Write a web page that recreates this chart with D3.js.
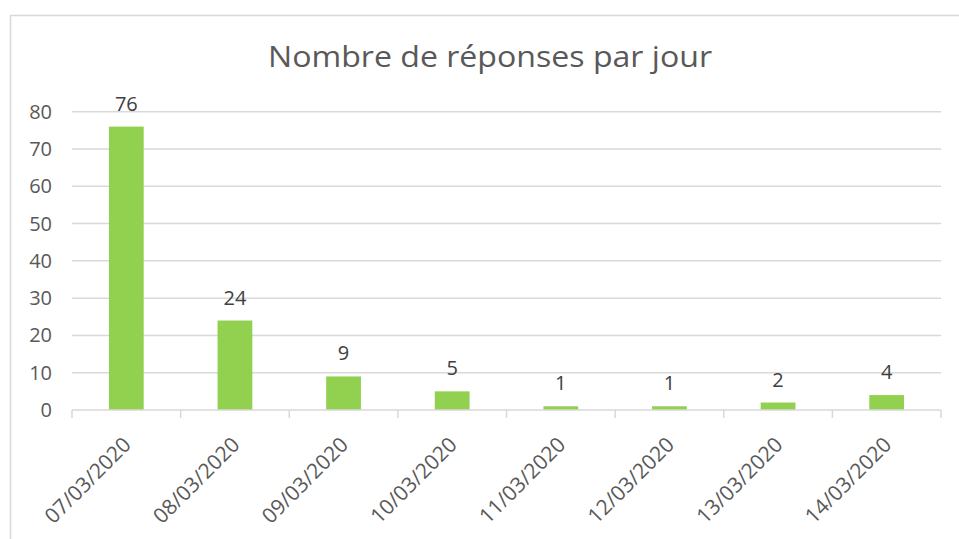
<!DOCTYPE html>
<html><head><meta charset="utf-8">
<script src="https://cdn.jsdelivr.net/npm/d3@7"></script>
<style>body{margin:0;background:#fff}svg{display:block}text{font-family:"Open Sans",sans-serif}</style>
</head><body>
<svg id="c" width="959" height="539"></svg>
<script>
const title = "Nombre de réponses par jour";
const categories = ["07/03/2020","08/03/2020","09/03/2020","10/03/2020","11/03/2020","12/03/2020","13/03/2020","14/03/2020"];
const values = [76,24,9,5,1,1,2,4];
const yTicks = [0,10,20,30,40,50,60,70,80];

const svg = d3.select("#c");
const m = {l:72, r:941, t:111.7, b:410};
// frame
svg.append("path").attr("d","M10.5,539 V15.5 H959").attr("fill","none").attr("stroke","#d9d9d9").attr("stroke-width",1.5);

const x = d3.scaleBand().domain(categories).range([m.l,m.r]).paddingInner(0.68).paddingOuter(0.34);
const xb = d3.scaleBand().domain(categories).range([m.l,m.r]);
const y = d3.scaleLinear().domain([0,80]).range([m.b,m.t]);

// gridlines
svg.append("g").selectAll("line").data(yTicks.filter(d=>d>0)).join("line")
  .attr("x1",m.l).attr("x2",m.r).attr("y1",d=>y(d)).attr("y2",d=>y(d))
  .attr("stroke","#d9d9d9").attr("stroke-width",1.5);

// y labels
svg.append("g").selectAll("text").data(yTicks).join("text")
  .attr("x",52).attr("y",d=>y(d)).attr("dy","0.35em").attr("text-anchor","end")
  .attr("font-size",20).attr("fill","#595959").text(d=>d);

// bars
svg.append("g").selectAll("rect").data(values).join("rect")
  .attr("x",(d,i)=>x(categories[i])).attr("width",x.bandwidth())
  .attr("y",d=>y(d)).attr("height",d=>y(0)-y(d)).attr("fill","#92d050");

// data labels
svg.append("g").selectAll("text").data(values).join("text")
  .attr("x",(d,i)=>x(categories[i])+x.bandwidth()/2).attr("y",d=>y(d)-16)
  .attr("text-anchor","middle").attr("font-size",20).attr("fill","#404040").text(d=>d);

// x axis
svg.append("line").attr("x1",m.l).attr("x2",m.r).attr("y1",m.b).attr("y2",m.b).attr("stroke","#d9d9d9").attr("stroke-width",1.5);
const bounds = categories.map(c=>xb(c)).concat([m.r]);
svg.append("g").selectAll("line").data(bounds).join("line")
  .attr("x1",d=>d).attr("x2",d=>d).attr("y1",m.b).attr("y2",m.b+8)
  .attr("stroke","#d9d9d9").attr("stroke-width",1.5);

svg.append("g").selectAll("text").data(categories).join("text")
  .attr("transform",d=>`translate(${xb(d)+xb.bandwidth()/2+6},${m.b+36}) rotate(-45)`)
  .attr("text-anchor","end").attr("font-size",21).attr("fill","#595959").text(d=>d);

// title
svg.append("text").attr("x",490).attr("y",67).attr("text-anchor","middle")
  .attr("font-size",29.5).attr("textLength",444).attr("lengthAdjust","spacingAndGlyphs")
  .attr("fill","#595959").text(title);
</script>
</body></html>
